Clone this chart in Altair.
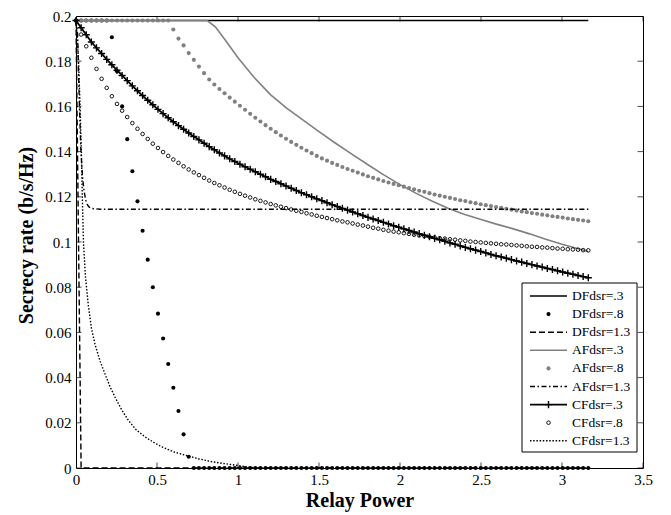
import altair as alt
import pandas as pd

# ---------------- data ----------------
# common relay-power sampling grid used by the marker series
X_GRID = [0.0, 0.0316, 0.0632, 0.0949, 0.1265, 0.1581, 0.1897, 0.2214, 0.2530, 0.2846,
          0.3162, 0.3479, 0.3795, 0.4111, 0.4427, 0.4743, 0.5060, 0.5376, 0.5692, 0.6008,
          0.6325, 0.6641, 0.6957, 0.7273, 0.7589, 0.7906, 0.8222, 0.8538, 0.8854, 0.9171,
          0.9487, 0.9803, 1.0119, 1.0435, 1.0752, 1.1068, 1.1384, 1.1700, 1.2017, 1.2333,
          1.2649, 1.2965, 1.3282, 1.3598, 1.3914, 1.4230, 1.4546, 1.4863, 1.5179, 1.5495,
          1.5811, 1.6128, 1.6444, 1.6760, 1.7076, 1.7393, 1.7709, 1.8025, 1.8341, 1.8657,
          1.8974, 1.9290, 1.9606, 1.9922, 2.0239, 2.0555, 2.0871, 2.1187, 2.1503, 2.1820,
          2.2136, 2.2452, 2.2768, 2.3085, 2.3401, 2.3717, 2.4033, 2.4349, 2.4666, 2.4982,
          2.5298, 2.5614, 2.5931, 2.6247, 2.6563, 2.6879, 2.7196, 2.7512, 2.7828, 2.8144,
          2.8460, 2.8777, 2.9093, 2.9409, 2.9725, 3.0042, 3.0358, 3.0674, 3.0990, 3.1306,
          3.1623]

DF03_X = [0.0, 3.1623]
DF03_Y = [0.198, 0.198]

DF08_Y = ([0.198] * 7 +
          [0.1906, 0.1755, 0.160, 0.1455, 0.1313, 0.118, 0.105, 0.0922, 0.080, 0.0683,
           0.0573, 0.046, 0.0355, 0.0252, 0.0149, 0.005] +
          [0.0] * 78)

DF13_X = [0.0, 0.0316, 3.1623]
DF13_Y = [0.198, 0.0, 0.0]

AF03_X = [0.0, 0.81, 0.86, 0.92, 1.0, 1.1, 1.2, 1.3, 1.4, 1.5, 1.6, 1.7, 1.8, 1.9, 2.0,
          2.1, 2.2, 2.3, 2.4, 2.5, 2.6, 2.7, 2.8, 2.9, 3.0, 3.1, 3.1623]
AF03_Y = [0.198, 0.198, 0.1952, 0.1895, 0.1815, 0.1728, 0.1652, 0.1592, 0.1540, 0.1488,
          0.1438, 0.1390, 0.1343, 0.1297, 0.1254, 0.1215, 0.1180, 0.1148, 0.1122, 0.1100,
          0.1078, 0.1058, 0.1036, 0.1012, 0.0990, 0.0970, 0.0958]

AF08_Y = ([0.198] * 19 +
          [0.194, 0.190, 0.187, 0.1836, 0.1806, 0.1776, 0.1747, 0.1719, 0.1697, 0.1677,
           0.1658, 0.1639, 0.1621, 0.1603, 0.1585, 0.1567, 0.1550, 0.1533, 0.1517, 0.1501,
           0.1486, 0.1471, 0.1457, 0.1443, 0.1430, 0.1417, 0.1405, 0.1393, 0.1381, 0.1370,
           0.1360, 0.1350, 0.1341, 0.1332, 0.1323, 0.1315, 0.1307, 0.1299, 0.1291, 0.1284,
           0.1277, 0.1270, 0.1263, 0.1257, 0.1251, 0.1245, 0.1239, 0.1233, 0.1227, 0.1222,
           0.1216, 0.1210, 0.1205, 0.1200, 0.1195, 0.1190, 0.1185, 0.1181, 0.1176, 0.1172,
           0.1167, 0.1163, 0.1159, 0.1155, 0.1151, 0.1147, 0.1143, 0.1139, 0.1135, 0.1132,
           0.1128, 0.1125, 0.1121, 0.1118, 0.1114, 0.1111, 0.1108, 0.1104, 0.1101, 0.1098,
           0.1095, 0.1092])

AF13_X = [0.0, 0.01, 0.02, 0.03, 0.04, 0.05, 0.06, 0.07, 0.08, 0.10, 0.15, 3.1623]
AF13_Y = [0.198, 0.192, 0.163, 0.141, 0.129, 0.1225, 0.1185, 0.1165, 0.1155, 0.1148,
          0.1145, 0.1145]

CF03_Y = [0.198, 0.1948, 0.1917, 0.1885, 0.1859, 0.1834, 0.1808, 0.1784, 0.1760, 0.1737,
          0.1714, 0.1691, 0.1669, 0.1648, 0.1627, 0.1607, 0.1587, 0.1568, 0.1550, 0.1532,
          0.1515, 0.1499, 0.1482, 0.1467, 0.1452, 0.1437, 0.1422, 0.1408, 0.1394, 0.1381,
          0.1368, 0.1356, 0.1344, 0.1333, 0.1322, 0.1311, 0.1300, 0.1289, 0.1277, 0.1268,
          0.1258, 0.1248, 0.1238, 0.1228, 0.1218, 0.1209, 0.1200, 0.1191, 0.1183, 0.1174,
          0.1165, 0.1157, 0.1149, 0.1141, 0.1133, 0.1125, 0.1117, 0.1109, 0.1102, 0.1095,
          0.1087, 0.1080, 0.1072, 0.1065, 0.1058, 0.1051, 0.1044, 0.1037, 0.1030, 0.1023,
          0.1016, 0.1010, 0.1003, 0.0996, 0.0990, 0.0983, 0.0976, 0.0970, 0.0964, 0.0958,
          0.0952, 0.0945, 0.0939, 0.0934, 0.0928, 0.0922, 0.0916, 0.0911, 0.0905, 0.0900,
          0.0894, 0.0889, 0.0883, 0.0878, 0.0873, 0.0867, 0.0862, 0.0857, 0.0852, 0.0847,
          0.0842]

CF08_Y = [0.198, 0.1918, 0.1866, 0.1815, 0.1766, 0.1722, 0.1682, 0.1645, 0.1611, 0.1581,
          0.1553, 0.1526, 0.1501, 0.1478, 0.1456, 0.1435, 0.1416, 0.1398, 0.1381, 0.1365,
          0.1350, 0.1335, 0.1321, 0.1308, 0.1296, 0.1284, 0.1272, 0.1261, 0.1251, 0.1241,
          0.1231, 0.1222, 0.1213, 0.1205, 0.1197, 0.1189, 0.1182, 0.1175, 0.1168, 0.1162,
          0.1156, 0.1150, 0.1144, 0.1138, 0.1133, 0.1127, 0.1122, 0.1116, 0.1111, 0.1106,
          0.1101, 0.1096, 0.1091, 0.1087, 0.1082, 0.1077, 0.1073, 0.1068, 0.1063, 0.1059,
          0.1054, 0.1050, 0.1046, 0.1043, 0.1039, 0.1036, 0.1032, 0.1029, 0.1026, 0.1023,
          0.1020, 0.1017, 0.1015, 0.1012, 0.1010, 0.1007, 0.1005, 0.1002, 0.1000, 0.0998,
          0.0996, 0.0994, 0.0992, 0.0990, 0.0989, 0.0987, 0.0985, 0.0983, 0.0981, 0.0979,
          0.0978, 0.0976, 0.0975, 0.0973, 0.0971, 0.0970, 0.0968, 0.0967, 0.0966, 0.0964,
          0.0963]

CF13_X = [0.0, 0.016, 0.025, 0.033, 0.039, 0.046, 0.058, 0.076, 0.095, 0.117, 0.15, 0.179,
          0.21, 0.241, 0.28, 0.323, 0.37, 0.426, 0.48, 0.529, 0.6, 0.693, 0.76, 0.838,
          0.91, 0.981, 1.05, 1.12, 3.1623]
CF13_Y = [0.198, 0.18, 0.16, 0.14, 0.12, 0.1, 0.085, 0.072, 0.062, 0.0548, 0.047, 0.0416,
          0.036, 0.0313, 0.026, 0.0211, 0.017, 0.0138, 0.0113, 0.0094, 0.0072, 0.0053,
          0.004, 0.0028, 0.002, 0.0013, 0.0005, 0.0, 0.0]

LABELS = ["DFdsr=.3", "DFdsr=.8", "DFdsr=1.3", "AFdsr=.3", "AFdsr=.8", "AFdsr=1.3",
          "CFdsr=.3", "CFdsr=.8", "CFdsr=1.3"]

X_TICKS = [0, 0.5, 1, 1.5, 2, 2.5, 3, 3.5]
Y_TICKS = [0, 0.02, 0.04, 0.06, 0.08, 0.1, 0.12, 0.14, 0.16, 0.18, 0.2]

# ---------------- styling ----------------
FONT = "Liberation Serif"
GREY = "#808080"
PLUS = "M-1,0L1,0M0,-1L0,1"
W, H = 567, 452

xs = alt.Scale(domain=[0, 3.5], nice=False, zero=False)
ys = alt.Scale(domain=[0, 0.2], nice=False, zero=False)
xaxis = alt.Axis(values=X_TICKS, format="~g", title="Relay Power", grid=False, domain=False,
                 tickSize=0, labelPadding=4, labelFlush=False, labelOverlap=False,
                 labelFont=FONT, labelFontSize=15, labelColor="black",
                 titleFont=FONT, titleFontSize=20, titleFontWeight="bold", titleColor="black",
                 titleBaseline="top", titleY=22)
yaxis = alt.Axis(values=Y_TICKS, format="~g", title="Secrecy rate (b/s/Hz)", grid=False,
                 domain=False, tickSize=0, labelPadding=5, labelFlush=False, labelOverlap=False,
                 labelFont=FONT, labelFontSize=15, labelColor="black",
                 titleFont=FONT, titleFontSize=20, titleFontWeight="bold", titleColor="black",
                 titleAngle=270, titleAlign="center", titleBaseline="middle",
                 titleX=-50, titleY=219)
XE = alt.X("x:Q", scale=xs, axis=xaxis)
YE = alt.Y("y:Q", scale=ys, axis=yaxis)


def frame(xv, yv):
    return alt.Chart(pd.DataFrame({"x": xv, "y": yv}))


def line(xv, yv, color, width, dash=None):
    kw = dict(color=color, strokeWidth=width)
    if dash:
        kw["strokeDash"] = dash
    return frame(xv, yv).mark_line(**kw).encode(x=XE, y=YE)


layers = []
# axis ticks (inward, MATLAB box style)
layers.append(frame(X_TICKS, [0.0] * len(X_TICKS)).mark_tick(
    orient="vertical", size=11, thickness=1, color="black", clip=True).encode(x=XE, y=YE))
layers.append(frame(X_TICKS, [0.2] * len(X_TICKS)).mark_tick(
    orient="vertical", size=11, thickness=1, color="black", clip=True).encode(x=XE, y=YE))
layers.append(frame([0.0] * len(Y_TICKS), Y_TICKS).mark_tick(
    orient="horizontal", size=11, thickness=1, color="black", clip=True).encode(x=XE, y=YE))
layers.append(frame([3.5] * len(Y_TICKS), Y_TICKS).mark_tick(
    orient="horizontal", size=11, thickness=1, color="black", clip=True).encode(x=XE, y=YE))

# series (MATLAB drawing order)
layers.append(line(DF03_X, DF03_Y, "black", 1.6))
layers.append(frame(X_GRID, DF08_Y).mark_circle(size=17, color="black", opacity=1).encode(x=XE, y=YE))
layers.append(line(DF13_X, DF13_Y, "black", 1.4, [6, 3]))
layers.append(line(AF03_X, AF03_Y, GREY, 1.6))
layers.append(frame(X_GRID, AF08_Y).mark_circle(size=17, color=GREY, opacity=1).encode(x=XE, y=YE))
layers.append(line(AF13_X, AF13_Y, "black", 1.4, [5, 2.5, 1.5, 2.5]))
layers.append(line(X_GRID, CF03_Y, "black", 1.8))
layers.append(frame(X_GRID, CF03_Y).mark_point(shape=PLUS, size=50, filled=False, color="black",
                                                strokeWidth=1.4, opacity=1).encode(x=XE, y=YE))
layers.append(frame(X_GRID, CF08_Y).mark_point(shape="circle", size=13, filled=False, color="black",
                                                strokeWidth=0.9, opacity=1).encode(x=XE, y=YE))
layers.append(line(CF13_X, CF13_Y, "black", 1.4, [1.5, 1.7]))

# legend (pixel layout inside the plot area)
one = pd.DataFrame({"k": [0]})
layers.append(alt.Chart(one).mark_rect(fill="white", stroke="black", strokeWidth=1).encode(
    x=alt.value(446), x2=alt.value(561), y=alt.value(267), y2=alt.value(436)))

LX0, LX1, LXM, LXT = 454, 491, 472.5, 496
styles = [
    ("line", dict(color="black", strokeWidth=1.6)),
    ("dot", dict(color="black")),
    ("line", dict(color="black", strokeWidth=1.4, strokeDash=[6, 3])),
    ("line", dict(color=GREY, strokeWidth=1.6)),
    ("dot", dict(color=GREY)),
    ("line", dict(color="black", strokeWidth=1.4, strokeDash=[5, 2.5, 1.5, 2.5])),
    ("lineplus", dict(color="black", strokeWidth=1.8)),
    ("circle", dict()),
    ("line", dict(color="black", strokeWidth=1.4, strokeDash=[1.5, 1.7])),
]
for i, (lab, (kind, st)) in enumerate(zip(LABELS, styles)):
    ly = 280 + 18.1 * i
    if kind in ("line", "lineplus"):
        layers.append(alt.Chart(one).mark_rule(**st).encode(
            x=alt.value(LX0), x2=alt.value(LX1), y=alt.value(ly)))
    if kind == "lineplus":
        layers.append(alt.Chart(one).mark_point(shape=PLUS, size=50, filled=False, color="black",
                                                strokeWidth=1.4, opacity=1).encode(
            x=alt.value(LXM), y=alt.value(ly)))
    if kind == "dot":
        layers.append(alt.Chart(one).mark_circle(size=17, opacity=1, **st).encode(
            x=alt.value(LXM), y=alt.value(ly)))
    if kind == "circle":
        layers.append(alt.Chart(one).mark_point(shape="circle", size=13, filled=False, color="black",
                                                strokeWidth=0.9, opacity=1).encode(
            x=alt.value(LXM), y=alt.value(ly)))
    layers.append(alt.Chart(pd.DataFrame({"label": [lab]})).mark_text(
        align="left", baseline="middle", font=FONT, fontSize=13.5, color="black").encode(
        x=alt.value(LXT), y=alt.value(ly), text="label:N"))

chart = alt.layer(*layers).properties(
    width=W, height=H,
    autosize=alt.AutoSizeParams(type="none"),
    padding={"left": 68, "top": 8, "right": 20, "bottom": 44},
    background="white",
).configure_view(stroke="black", strokeWidth=1)

chart.save("out.html", embed_options={"renderer": "svg", "actions": False})
